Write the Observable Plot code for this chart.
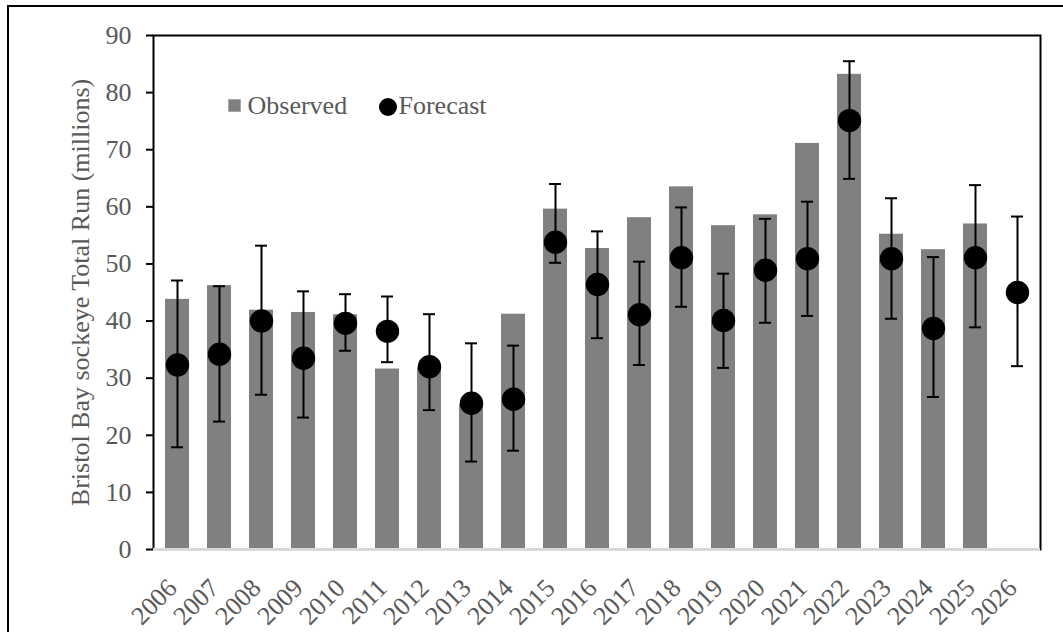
<!DOCTYPE html>
<html>
<head>
<meta charset="utf-8">
<script src="https://cdn.jsdelivr.net/npm/d3@7"></script>
<script src="https://cdn.jsdelivr.net/npm/@observablehq/plot@0.6"></script>
<style>
  html, body { margin: 0; padding: 0; background: #fff; overflow: hidden; }
  #wrap { position: relative; width: 1063px; height: 632px; }
  #border { position: absolute; left: 7px; top: 5px; width: 1100px; height: 700px;
            border-top: 2.5px solid #000; border-left: 2.5px solid #000; pointer-events: none; }
  #chart { position: absolute; left: 0; top: 0; }
</style>
</head>
<body>
<div id="wrap"><div id="chart"></div><div id="border"></div></div>
<script>
// Bristol Bay sockeye salmon: observed total run vs. preseason forecast (millions of fish)
const years = ["2006","2007","2008","2009","2010","2011","2012","2013","2014","2015","2016",
               "2017","2018","2019","2020","2021","2022","2023","2024","2025","2026"];
const observed = [43.8, 46.2, 41.9, 41.5, 41.1, 31.6, 31.8, 25.4, 41.2, 59.6, 52.7,
                  58.1, 63.5, 56.7, 58.6, 71.1, 83.2, 55.2, 52.5, 57.0, null];
const forecast = [32.3, 34.2, 40.0, 33.5, 39.6, 38.2, 32.0, 25.6, 26.3, 53.8, 46.4,
                  41.1, 51.1, 40.1, 48.9, 50.9, 75.1, 50.9, 38.7, 51.1, 45.0];
const forecastLow = [17.9, 22.4, 27.1, 23.1, 34.8, 32.8, 24.4, 15.4, 17.3, 50.2, 37.0,
                     32.3, 42.5, 31.8, 39.7, 40.9, 64.9, 40.4, 26.7, 38.9, 32.1];
const forecastHigh = [47.1, 46.1, 53.2, 45.2, 44.7, 44.3, 41.2, 36.1, 35.7, 64.0, 55.7,
                      50.4, 59.9, 48.3, 57.9, 60.9, 85.5, 61.5, 51.2, 63.8, 58.3];
const yTicks = [0, 10, 20, 30, 40, 50, 60, 70, 80, 90];
const yTitle = "Bristol Bay sockeye Total Run (millions)";
const legendLabels = ["Observed", "Forecast"];

const rows = years.map((year, i) => ({
  year, observed: observed[i], forecast: forecast[i], low: forecastLow[i], high: forecastHigh[i]
}));

const textGray = "#595959";
const barGray = "#808080";
const font = 26;

const chart = Plot.plot({
  width: 1063,
  height: 632,
  marginLeft: 153,
  marginRight: 23,
  marginTop: 35,
  marginBottom: 83,
  style: { fontFamily: "'Liberation Serif', 'Times New Roman', serif", fontSize: font + "px", background: "transparent" },
  x: { domain: years, paddingInner: 0.43, paddingOuter: 0.215, axis: null },
  y: { domain: [0, 90] },
  marks: [
    Plot.frame({ stroke: "#000", strokeWidth: 2 }),
    Plot.barY(rows.filter(d => d.observed != null), { x: "year", y: "observed", fill: barGray }),
    Plot.ruleY([0], { stroke: "#d9d9d9", strokeWidth: 3 }),
    Plot.axisY({
      ticks: yTicks, tickSize: 7, tickPadding: 15, stroke: "#000", strokeWidth: 2,
      fill: textGray, fontSize: font, label: null, tickFormat: d => String(d)
    }),
    // forecast range whiskers with caps
    Plot.ruleX(rows, { x: "year", y1: "low", y2: "high", stroke: "#000", strokeWidth: 2 }),
    Plot.tickY(rows, { x: "year", y: "low", stroke: "#000", strokeWidth: 2, insetLeft: 6, insetRight: 6 }),
    Plot.tickY(rows, { x: "year", y: "high", stroke: "#000", strokeWidth: 2, insetLeft: 6, insetRight: 6 }),
    Plot.dot(rows, { x: "year", y: "forecast", r: 11.7, fill: "#000" }),
    // rotated year labels under each category
    Plot.text(years, {
      x: d => d, text: d => d, frameAnchor: "bottom", rotate: -45,
      textAnchor: "end", lineAnchor: "bottom", dx: 1, dy: 40, fill: textGray, fontSize: font
    }),
    // y-axis title
    Plot.text([yTitle], {
      text: d => d, frameAnchor: "left", rotate: -90, textAnchor: "middle",
      lineAnchor: "bottom", dx: -65, fill: textGray, fontSize: font
    }),
    // legend
    Plot.dot([legendLabels[0]], { frameAnchor: "top-left", dx: 81, dy: 70, symbol: "square", r: 7, fill: barGray }),
    Plot.text([legendLabels[0]], { text: d => d, frameAnchor: "top-left", dx: 94, dy: 78, textAnchor: "start", lineAnchor: "bottom", fill: textGray, fontSize: font }),
    Plot.dot([legendLabels[1]], { frameAnchor: "top-left", dx: 234.5, dy: 71.5, r: 9, fill: "#000" }),
    Plot.text([legendLabels[1]], { text: d => d, frameAnchor: "top-left", dx: 245, dy: 78, textAnchor: "start", lineAnchor: "bottom", fill: textGray, fontSize: font })
  ]
});

document.getElementById("chart").append(chart);
</script>
</body>
</html>
